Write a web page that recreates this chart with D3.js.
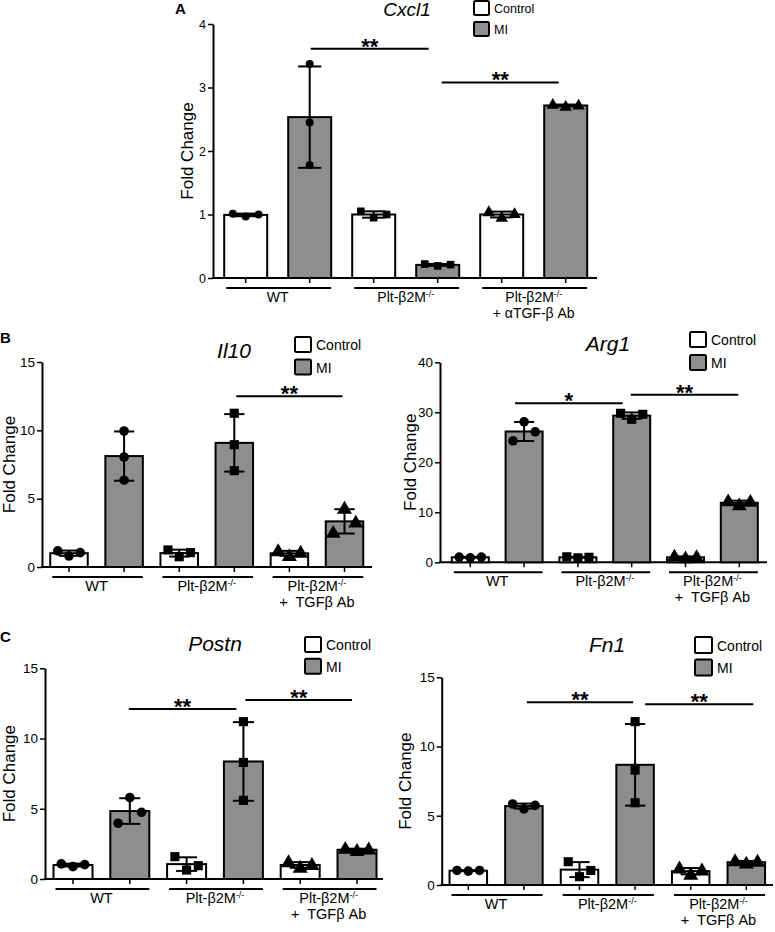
<!DOCTYPE html>
<html><head><meta charset="utf-8">
<script src="https://cdn.jsdelivr.net/npm/d3@7"></script>
<style>body{margin:0;background:#fff}svg{display:block}text{font-family:"Liberation Sans",Arial,sans-serif}</style>
</head><body>
<svg id="c" width="775" height="932"></svg>
<script>
// ---------------- DATA ----------------
const groups = ["WT", "Plt", "TGF"];
const conditions = ["Control", "MI"];
const groupLabelsA = [["WT"], ["Plt-β2M^-/-"], ["Plt-β2M^-/-", "+ αTGF-β Ab"]];
const groupLabelsBC = [["WT"], ["Plt-β2M^-/-"], ["Plt-β2M^-/-", "+  TGFβ Ab"]];
const groupMarkers = ["circle", "square", "triangle"];

// replicate values (left, centre, right) per group
const cxcl1Control = [[1.01, 0.97, 1.0], [1.05, 0.95, 1.0], [1.04, 0.95, 1.01]];
const cxcl1MI      = [[3.37, 2.45, 1.78], [0.22, 0.19, 0.21], [2.73, 2.70, 2.72]];
const cxcl1Ticks   = [0, 1, 2, 3, 4];
const cxcl1Sig     = [["WT-MI", "Plt-MI", 3.61, "**"], ["Plt-MI", "TGF-MI", 3.08, "**"]];

const il10Control = [[1.18, 0.8, 1.05], [1.25, 0.75, 1.05], [1.15, 0.8, 1.05]];
const il10MI      = [[9.95, 8.05, 6.35], [11.25, 8.95, 7.05], [2.5, 4.27, 3.25]];
const il10Ticks   = [0, 5, 10, 15];
const il10Sig     = [["Plt-MI", "TGF-MI", 12.5, "**"]];

const arg1Control = [[1.05, 0.9, 1.05], [1.1, 0.9, 1.0], [1.15, 0.8, 1.05]];
const arg1MI      = [[24.3, 28.1, 26.1], [29.8, 28.6, 29.6], [12.2, 11.4, 12.1]];
const arg1Ticks   = [0, 10, 20, 30, 40];
const arg1Sig     = [["WT-MI", "Plt-MI", 31.8, "*"], ["Plt-MI", "TGF-MI", 33.5, "**"]];

const postnControl = [[1.08, 0.88, 1.02], [1.59, 0.64, 0.95], [1.2, 0.8, 1.0]];
const postnMI      = [[3.97, 5.79, 4.75], [11.2, 8.3, 5.6], [2.15, 2.0, 2.1]];
const postnTicks   = [0, 5, 10, 15];
const postnSig     = [["WT-MI", "Plt-MI", 12.1, "**"], ["Plt-MI", "TGF-MI", 12.75, "**"]];

const fn1Control = [[1.05, 1.0, 1.05], [1.68, 0.6, 1.05], [1.2, 0.75, 1.05]];
const fn1MI      = [[5.85, 5.5, 5.75], [11.8, 8.3, 5.94], [1.72, 1.55, 1.68]];
const fn1Ticks   = [0, 5, 10, 15];
const fn1Sig     = [["WT-MI", "Plt-MI", 13.2, "**"], ["Plt-MI", "TGF-MI", 13.05, "**"]];

// ---------------- LAYOUT ----------------
const GREY = "#8e8e8e";
const FONT = '"Liberation Sans",Arial,sans-serif';
const svg = d3.select("#c");

const panels = [
  {title: "Cxcl1", control: cxcl1Control, mi: cxcl1MI, ticks: cxcl1Ticks, sig: cxcl1Sig, labels: groupLabelsA,
   L: {x0: 213, xEnd: 597, y0: 278, yTop: 24, c0: 245.7, step: 64, bw: 43, r: 4, glFont: 14,
       titleX: 407, titleY: 16, titleSize: 19, legX: 474, legY: 1, box: 15, legGap: 21, legFont: 12.5,
       letter: "A", letterX: 175, letterY: 13.5, ylabX: 193, tickFont: 12.5, sigOff: [[1, -9], [4, -7]]}},
  {title: "Il10", control: il10Control, mi: il10MI, ticks: il10Ticks, sig: il10Sig, labels: groupLabelsBC,
   L: {x0: 42, xEnd: 372, y0: 567, yTop: 362, c0: 69, step: 55.1, bw: 37.5, r: 4.8, glFont: 14.5,
       titleX: 234, titleY: 358, titleSize: 21, legX: 295, legY: 337, box: 16, legGap: 22.5, legFont: 14,
       letter: "B", letterX: 0, letterY: 343, ylabX: 15, tickFont: 13.5, sigOff: [[2, -2]]}},
  {title: "Arg1", control: arg1Control, mi: arg1MI, ticks: arg1Ticks, sig: arg1Sig, labels: groupLabelsBC,
   L: {x0: 440, xEnd: 767, y0: 562.3, yTop: 362.3, c0: 470.3, step: 53.8, bw: 37, r: 4.8, glFont: 14.5,
       titleX: 608, titleY: 350.5, titleSize: 21, legX: 690, legY: 332, box: 16, legGap: 23, legFont: 14,
       letter: null, ylabX: 416, tickFont: 13.5, sigOff: [[-9, -9], [-1, -1]]}},
  {title: "Postn", control: postnControl, mi: postnMI, ticks: postnTicks, sig: postnSig, labels: groupLabelsBC,
   L: {x0: 45, xEnd: 383, y0: 879, yTop: 668.3, c0: 73, step: 56.8, bw: 39, r: 4.8, glFont: 14.5,
       titleX: 215, titleY: 651, titleSize: 21, legX: 305, legY: 637, box: 16, legGap: 21.7, legFont: 14,
       letter: "C", letterX: 0, letterY: 642, ylabX: 15, tickFont: 13.5, sigOff: [[-1, -7], [2, -5]]}},
  {title: "Fn1", control: fn1Control, mi: fn1MI, ticks: fn1Ticks, sig: fn1Sig, labels: groupLabelsBC,
   L: {x0: 441.7, xEnd: 773, y0: 885, yTop: 677.3, c0: 468.3, step: 55.6, bw: 37.5, r: 4.8, glFont: 14.5,
       titleX: 607, titleY: 652, titleSize: 21, legX: 695, legY: 637, box: 17, legGap: 22.6, legFont: 14,
       letter: null, ylabX: 411, tickFont: 13.5, sigOff: [[3, -2], [10, 7]]}}
];

function addLabel(sel, str, size) {
  const parts = str.split("^");
  sel.append("tspan").text(parts[0]);
  if (parts[1]) sel.append("tspan").attr("dy", -5.5).attr("font-size", size * 0.62).text(parts[1]);
}

function marker(g, type, cx, cy, r) {
  if (type === "circle") g.append("circle").attr("cx", cx).attr("cy", cy).attr("r", r).attr("fill", "#000");
  else if (type === "square") g.append("rect").attr("x", cx - r * 0.95).attr("y", cy - r * 0.95).attr("width", 1.9 * r).attr("height", 1.9 * r).attr("fill", "#000");
  else g.append("path").attr("d", d3.symbol(d3.symbolTriangle, r * r * 4.2)()).attr("transform", `translate(${cx},${cy + r * 0.15})`).attr("fill", "#000");
}

panels.forEach(p => {
  const L = p.L;
  const g = svg.append("g");
  const keys = [];
  groups.forEach(gr => conditions.forEach(c => keys.push(gr + "-" + (c === "Control" ? "C" : "MI"))));
  const pad = 1 - L.bw / L.step;
  const x = d3.scaleBand().domain(keys)
    .range([L.c0 - L.step / 2, L.c0 + 5.5 * L.step]).paddingInner(pad).paddingOuter(pad / 2);
  const y = d3.scaleLinear().domain([0, d3.max(p.ticks)]).range([L.y0, L.yTop]);
  const bw = x.bandwidth();
  const cx = k => x(k) + bw / 2;

  // y axis
  const ya = g.append("g").attr("transform", `translate(${L.x0},0)`)
    .call(d3.axisLeft(y).tickValues(p.ticks).tickFormat(d3.format("d")).tickSize(5).tickSizeOuter(0).tickPadding(2));
  ya.select(".domain").attr("stroke-width", 2);
  ya.selectAll(".tick line").attr("stroke-width", 1.5);
  ya.selectAll("text").attr("font-size", L.tickFont).attr("fill", "#000").attr("font-family", FONT);

  // x axis ticks
  const xa = g.append("g").attr("transform", `translate(0,${L.y0})`)
    .call(d3.axisBottom(x).tickSize(5).tickFormat(""));
  xa.select(".domain").remove();
  xa.selectAll(".tick line").attr("stroke-width", 1.5);
  g.append("line").attr("x1", L.x0 - 1).attr("x2", L.xEnd).attr("y1", L.y0).attr("y2", L.y0)
    .attr("stroke", "#000").attr("stroke-width", 2);

  // bars, error bars, points
  const rows = [];
  groups.forEach((gr, gi) => {
    rows.push({key: gr + "-C", vals: p.control[gi], fill: "#fff", m: groupMarkers[gi]});
    rows.push({key: gr + "-MI", vals: p.mi[gi], fill: GREY, m: groupMarkers[gi]});
  });
  rows.forEach(r => {
    const mean = d3.mean(r.vals), sd = d3.deviation(r.vals);
    g.append("rect").attr("x", x(r.key)).attr("y", y(mean)).attr("width", bw).attr("height", L.y0 - y(mean))
      .attr("fill", r.fill).attr("stroke", "#000").attr("stroke-width", 2);
    const c = cx(r.key), cap = bw * 0.27;
    g.append("line").attr("x1", c).attr("x2", c).attr("y1", y(mean - sd)).attr("y2", y(mean + sd)).attr("stroke", "#000").attr("stroke-width", 2);
    [mean - sd, mean + sd].forEach(v => g.append("line").attr("x1", c - cap).attr("x2", c + cap).attr("y1", y(v)).attr("y2", y(v)).attr("stroke", "#000").attr("stroke-width", 2));
    const ys = r.vals.map(v => y(v)).slice().sort((a, b) => a - b);
    const minGap = d3.min(d3.pairs(ys), ([a, b]) => b - a);
    const spread = minGap < 20 ? bw * 0.3 : 0;
    r.vals.forEach((v, i) => marker(g, r.m, c + (i - 1) * spread, y(v), L.r));
  });

  // group underlines + labels
  groups.forEach((gr, gi) => {
    const xa1 = x(gr + "-C") + 2, xa2 = x(gr + "-MI") + bw;
    g.append("line").attr("x1", xa1).attr("x2", xa2).attr("y1", L.y0 + 10).attr("y2", L.y0 + 10).attr("stroke", "#000").attr("stroke-width", 2);
    const mid = (cx(gr + "-C") + cx(gr + "-MI")) / 2;
    p.labels[gi].forEach((s, li) => {
      const t = g.append("text").attr("x", mid).attr("y", L.y0 + 24 + li * 16).attr("text-anchor", "middle")
        .attr("font-size", L.glFont).style("white-space", "pre");
      addLabel(t, s, L.glFont);
    });
  });

  // significance
  p.sig.forEach((s, si) => {
    const x1 = cx(s[0]) + L.sigOff[si][0], x2 = cx(s[1]) + L.sigOff[si][1], yy = y(s[2]);
    g.append("line").attr("x1", x1).attr("x2", x2).attr("y1", yy).attr("y2", yy).attr("stroke", "#000").attr("stroke-width", 2);
    g.append("text").attr("x", (x1 + x2) / 2).attr("y", yy + 5).attr("text-anchor", "middle")
      .attr("font-size", 22).attr("font-weight", "bold").text(s[3]);
  });

  // title
  g.append("text").attr("x", L.titleX).attr("y", L.titleY).attr("text-anchor", "middle")
    .attr("font-size", L.titleSize).attr("font-style", "italic").text(p.title);

  // legend
  conditions.forEach((c, i) => {
    const yy = L.legY + i * L.legGap;
    g.append("rect").attr("x", L.legX).attr("y", yy).attr("width", L.box).attr("height", L.box - 1).attr("rx", 1.5)
      .attr("fill", i === 0 ? "#fff" : GREY).attr("stroke", "#000").attr("stroke-width", 2);
    g.append("text").attr("x", L.legX + L.box + 5).attr("y", yy + L.box / 2 + L.legFont * 0.36)
      .attr("font-size", L.legFont).text(c);
  });

  // y label
  g.append("text").attr("transform", `translate(${L.ylabX},${(L.y0 + L.yTop) / 2}) rotate(-90)`)
    .attr("text-anchor", "middle").attr("font-size", 17).text("Fold Change");

  if (L.letter) g.append("text").attr("x", L.letterX).attr("y", L.letterY).attr("font-size", 15)
    .attr("font-weight", "bold").text(L.letter);
});
</script>
</body></html>
